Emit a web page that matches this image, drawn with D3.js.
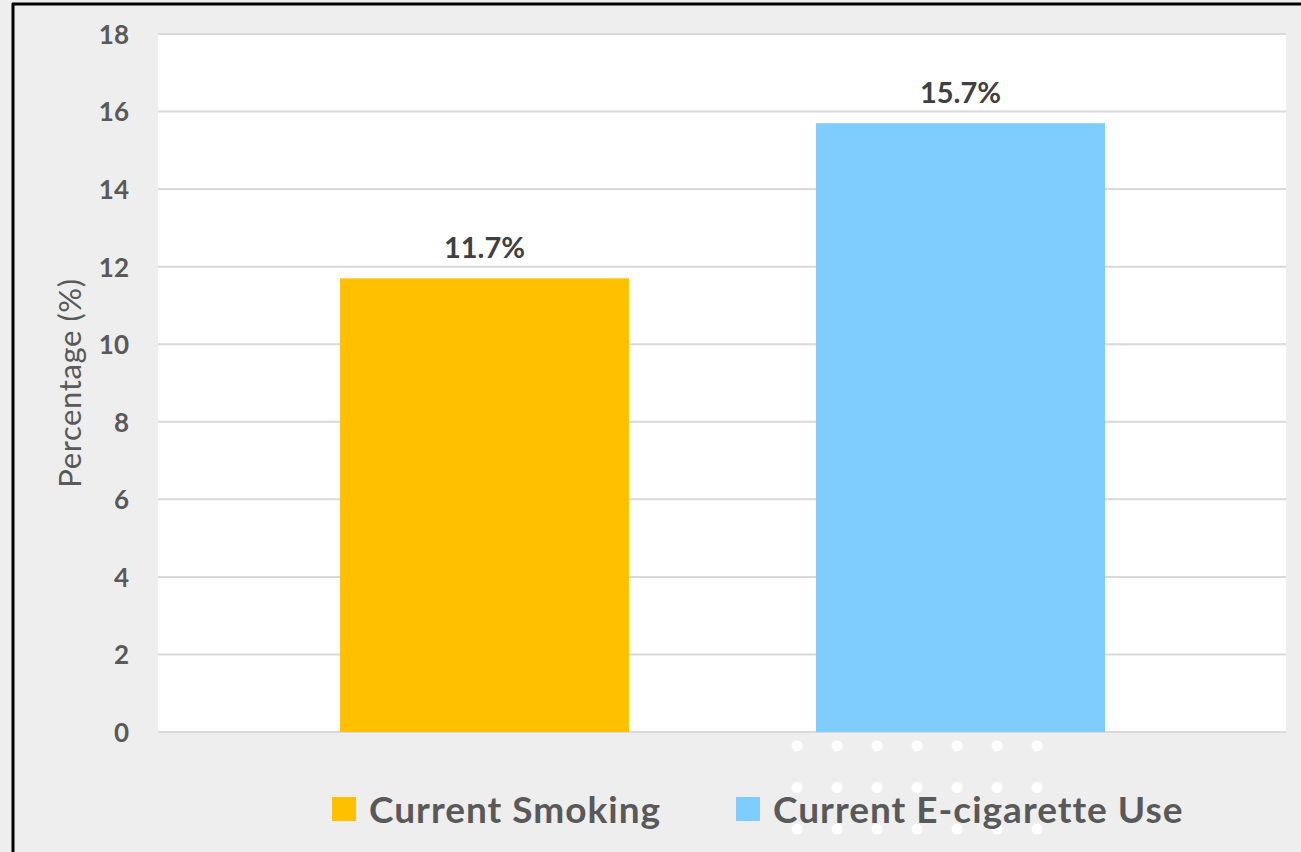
<!DOCTYPE html>
<html>
<head>
<meta charset="utf-8">
<script src="https://cdn.jsdelivr.net/npm/d3@7"></script>
<style>
  html, body { margin: 0; padding: 0; background: #eeeeee; }
  svg { display: block; }
  text { font-family: Lato, "Open Sans", sans-serif; }
</style>
</head>
<body>
<svg id="chart" width="1301" height="852"></svg>
<script>
// Survey results: prevalence of current use
const categories = ["Current Smoking", "Current E-cigarette Use"];
const values = [11.7, 15.7];
const colors = ["#FFC000", "#7FCCFE"];
const yTicks = [0, 2, 4, 6, 8, 10, 12, 14, 16, 18];
const yTitle = "Percentage (%)";

const W = 1301, H = 852;
const plot = { left: 158, right: 1286, top: 34, bottom: 732 };

const svg = d3.select("#chart");

// page background and frame edges
svg.append("rect").attr("width", W).attr("height", H).attr("fill", "#eeeeee");
svg.append("line").attr("x1", 13).attr("x2", 13).attr("y1", 3).attr("y2", H)
  .attr("stroke", "#000").attr("stroke-width", 3);
svg.append("line").attr("x1", 12).attr("x2", W).attr("y1", 4).attr("y2", 4)
  .attr("stroke", "#000").attr("stroke-width", 3);

// white plotting area
svg.append("rect")
  .attr("x", plot.left).attr("y", plot.top)
  .attr("width", plot.right - plot.left).attr("height", plot.bottom - plot.top)
  .attr("fill", "#ffffff");

const y = d3.scaleLinear().domain([0, 18]).range([plot.bottom, plot.top]);
const x = d3.scaleBand().domain(categories)
  .range([246.5, 1198.5]).paddingInner(0.393).paddingOuter(0.1965);

// horizontal gridlines
svg.append("g").selectAll("line").data(yTicks).join("line")
  .attr("x1", plot.left).attr("x2", plot.right)
  .attr("y1", d => y(d)).attr("y2", d => y(d))
  .attr("stroke", "#d9d9d9").attr("stroke-width", 2);

// y-axis tick labels
const yAxis = d3.axisLeft(y).tickValues(yTicks).tickSize(0).tickPadding(0);
const gy = svg.append("g").attr("transform", `translate(129,0)`).call(yAxis);
gy.select(".domain").remove();
gy.selectAll("text")
  .attr("fill", "#595959").attr("font-size", 26).attr("font-weight", 700)
  .attr("font-family", "Lato, 'Open Sans', sans-serif").attr("dy", "0.36em");

// y-axis title
svg.append("text")
  .attr("transform", `translate(81,383) rotate(-90)`)
  .attr("text-anchor", "middle")
  .attr("fill", "#595959").attr("font-size", 31).attr("letter-spacing", 0.6)
  .text(yTitle);

// bars
svg.append("g").selectAll("rect").data(categories).join("rect")
  .attr("x", d => x(d)).attr("width", x.bandwidth())
  .attr("y", (d, i) => y(values[i]))
  .attr("height", (d, i) => y(0) - y(values[i]))
  .attr("fill", (d, i) => colors[i]);

// value labels
svg.append("g").selectAll("text").data(categories).join("text")
  .attr("x", d => x(d) + x.bandwidth() / 2)
  .attr("y", (d, i) => y(values[i]) - 20)
  .attr("text-anchor", "middle")
  .attr("fill", "#404040").attr("font-size", 29).attr("font-weight", 700)
  .text((d, i) => values[i].toFixed(1) + "%");

// decorative dot grid under the legend
const dots = [];
d3.range(3).forEach(r => d3.range(7).forEach(c => dots.push([797 + c * 40, 746 + r * 41.5])));
svg.append("g").selectAll("circle").data(dots).join("circle")
  .attr("cx", d => d[0]).attr("cy", d => d[1]).attr("r", 5.5)
  .attr("fill", "#ffffff");

// legend
const legendX = [332, 736];
const lg = svg.append("g").selectAll("g").data(categories).join("g")
  .attr("transform", (d, i) => `translate(${legendX[i]},797)`);
lg.append("rect").attr("width", 24).attr("height", 24)
  .attr("fill", (d, i) => colors[i]);
lg.append("text")
  .attr("x", 37).attr("y", 26)
  .attr("fill", "#595959").attr("font-size", 37).attr("font-weight", 700)
  .attr("letter-spacing", 1)
  .text(d => d);
</script>
</body>
</html>
